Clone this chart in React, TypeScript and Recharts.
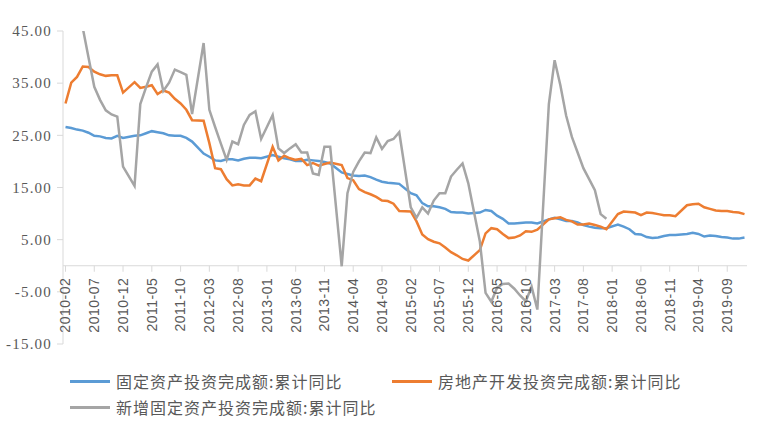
import { Line, LineChart, ReferenceLine, XAxis, YAxis } from "recharts";

// 月度类目（1月无单独数据，留空后连线）
const months = [
  "2010-02", "2010-03", "2010-04", "2010-05", "2010-06", "2010-07", "2010-08", "2010-09", "2010-10", "2010-11", "2010-12",
  "2011-01", "2011-02", "2011-03", "2011-04", "2011-05", "2011-06", "2011-07", "2011-08", "2011-09", "2011-10", "2011-11", "2011-12",
  "2012-01", "2012-02", "2012-03", "2012-04", "2012-05", "2012-06", "2012-07", "2012-08", "2012-09", "2012-10", "2012-11", "2012-12",
  "2013-01", "2013-02", "2013-03", "2013-04", "2013-05", "2013-06", "2013-07", "2013-08", "2013-09", "2013-10", "2013-11", "2013-12",
  "2014-01", "2014-02", "2014-03", "2014-04", "2014-05", "2014-06", "2014-07", "2014-08", "2014-09", "2014-10", "2014-11", "2014-12",
  "2015-01", "2015-02", "2015-03", "2015-04", "2015-05", "2015-06", "2015-07", "2015-08", "2015-09", "2015-10", "2015-11", "2015-12",
  "2016-01", "2016-02", "2016-03", "2016-04", "2016-05", "2016-06", "2016-07", "2016-08", "2016-09", "2016-10", "2016-11", "2016-12",
  "2017-01", "2017-02", "2017-03", "2017-04", "2017-05", "2017-06", "2017-07", "2017-08", "2017-09", "2017-10", "2017-11", "2017-12",
  "2018-01", "2018-02", "2018-03", "2018-04", "2018-05", "2018-06", "2018-07", "2018-08", "2018-09", "2018-10", "2018-11", "2018-12",
  "2019-01", "2019-02", "2019-03", "2019-04", "2019-05", "2019-06", "2019-07", "2019-08", "2019-09", "2019-10", "2019-11", "2019-12",
];

// 固定资产投资完成额:累计同比
const fixedAsset = [
  26.6, 26.4, 26.1, 25.9, 25.5, 24.9, 24.8, 24.5, 24.4, 24.9, 24.5,
  null, 24.9, 25.0, 25.4, 25.8, 25.6, 25.4, 25.0, 24.9, 24.9, 24.5, 23.8,
  null, 21.5, 20.9, 20.2, 20.1, 20.4, 20.4, 20.2, 20.5, 20.7, 20.7, 20.6,
  null, 21.2, 20.9, 20.6, 20.4, 20.1, 20.1, 20.3, 20.2, 20.1, 19.9, 19.6,
  null, 17.9, 17.6, 17.3, 17.2, 17.3, 17.0, 16.5, 16.1, 15.9, 15.8, 15.7,
  null, 13.9, 13.5, 12.0, 11.4, 11.4, 11.2, 10.9, 10.3, 10.2, 10.2, 10.0,
  null, 10.2, 10.7, 10.5, 9.6, 9.0, 8.1, 8.1, 8.2, 8.3, 8.3, 8.1,
  null, 8.9, 9.2, 8.9, 8.6, 8.6, 8.3, 7.8, 7.5, 7.3, 7.2, 7.2,
  null, 7.9, 7.5, 7.0, 6.1, 6.0, 5.5, 5.3, 5.4, 5.7, 5.9, 5.9,
  null, 6.1, 6.3, 6.1, 5.6, 5.8, 5.7, 5.5, 5.4, 5.2, 5.2, 5.4,
];

// 房地产开发投资完成额:累计同比
const realEstate = [
  31.1, 35.1, 36.2, 38.2, 38.1, 37.2, 36.7, 36.4, 36.5, 36.5, 33.2,
  null, 35.2, 34.1, 34.3, 34.6, 32.9, 33.6, 33.2, 32.0, 31.1, 29.9, 27.9,
  null, 27.8, 23.5, 18.7, 18.5, 16.6, 15.4, 15.6, 15.4, 15.4, 16.7, 16.2,
  null, 22.8, 20.2, 21.1, 20.6, 20.3, 20.5, 19.3, 19.7, 19.2, 19.5, 19.8,
  null, 19.3, 16.8, 16.4, 14.7, 14.1, 13.7, 13.2, 12.5, 12.4, 11.9, 10.5,
  null, 10.4, 8.5, 6.0, 5.1, 4.6, 4.3, 3.5, 2.6, 2.0, 1.3, 1.0,
  null, 3.0, 6.2, 7.2, 7.0, 6.1, 5.3, 5.4, 5.8, 6.6, 6.5, 6.9,
  null, 8.9, 9.1, 9.3, 8.8, 8.5, 7.9, 7.9, 8.1, 7.8, 7.5, 7.0,
  null, 9.9, 10.4, 10.3, 10.2, 9.7, 10.2, 10.1, 9.9, 9.7, 9.7, 9.5,
  null, 11.6, 11.8, 11.9, 11.2, 10.9, 10.6, 10.5, 10.5, 10.3, 10.2, 9.9,
];

// 新增固定资产投资完成额:累计同比
const newFixedAsset = [
  null, null, null, 45.6, 39.9, 34.3, 31.8, 29.8, 29.0, 28.6, 19.0,
  null, 15.3, 31.0, 34.2, 37.2, 38.6, 33.5, 35.1, 37.6, 37.1, 36.6, 29.1,
  null, 42.7, 29.9, 26.6, 23.4, 20.3, 23.8, 23.3, 27.0, 28.9, 29.6, 24.3,
  null, 28.9, 22.5, 21.6, 22.5, 23.3, 21.7, 21.7, 17.7, 17.4, 22.8, 22.8,
  null, -0.1, 13.9, 18.0, 20.0, 21.7, 21.6, 24.6, 22.4, 23.9, 24.3, 25.6,
  null, 11.2, 9.2, 11.2, 10.0, 12.5, 13.9, 13.9, 17.1, 18.4, 19.6, 15.8,
  null, 4.7, -5.2, -6.9, -4.2, -3.5, -3.4, -4.4, -5.7, -6.8, -4.0, -8.4,
  null, 31.0, 39.4, 34.6, 28.8, 24.7, 21.7, 18.7, 16.6, 14.5, 9.9, 9.0,
  null, null, null, null, null, null, null, null, null, null, null, null,
  null, null, null, null, null, null, null, null, null, null, null, null,
];

const yTicks = [-15, -5, 5, 15, 25, 35, 45];

const series = [
  { key: "fixedAsset", name: "固定资产投资完成额:累计同比", color: "#5B9BD5" },
  { key: "realEstate", name: "房地产开发投资完成额:累计同比", color: "#ED7D31" },
  { key: "newFixedAsset", name: "新增固定资产投资完成额:累计同比", color: "#A5A5A5" },
];

const data = months.map((month, i) => ({
  month,
  fixedAsset: fixedAsset[i],
  realEstate: realEstate[i],
  newFixedAsset: newFixedAsset[i],
}));

const WIDTH = 775;
const HEIGHT = 441;
const X_AXIS_H = 30;
const MARGIN = { top: 31, right: 28, bottom: 97 - X_AXIS_H, left: 0 };
const Y_MIN = -15;
const Y_MAX = 45;
const PLOT_H = HEIGHT - MARGIN.top - MARGIN.bottom - X_AXIS_H;
const ZERO_Y = MARGIN.top + (PLOT_H * Y_MAX) / (Y_MAX - Y_MIN);
const AXIS_COLOR = "#d9d9d9";
const TEXT_COLOR = "#595959";

const MonthTick = (props: any) => {
  const { x, payload } = props;
  const ty = ZERO_Y + 12;
  return (
    <g>
      <line x1={x} x2={x} y1={ZERO_Y} y2={ZERO_Y + 6} stroke={AXIS_COLOR} />
      <text
        x={x}
        y={ty}
        dy="0.35em"
        textAnchor="end"
        transform={`rotate(-90 ${x} ${ty})`}
        fill={TEXT_COLOR}
        fontSize={14}
        letterSpacing={0.5}
        fontFamily="Liberation Sans, Arial, sans-serif"
      >
        {payload.value}
      </text>
    </g>
  );
};

const legendRows = [
  [
    { ...series[0], left: 70 },
    { ...series[1], left: 392 },
  ],
  [{ ...series[2], left: 70 }],
];
const LEGEND_TOP = [381, 407];

const App = () => {
  return (
    <div style={{ position: "absolute", left: 0, top: 0, width: WIDTH, height: HEIGHT, background: "#fff" }}>
      <LineChart width={WIDTH} height={HEIGHT} data={data} margin={MARGIN}>
        <XAxis
          dataKey="month"
          interval={4}
          height={X_AXIS_H}
          axisLine={false}
          tickLine={false}
          padding={{ left: 2.5, right: 2.5 }}
          tick={(p: any) => <MonthTick {...p} />}
        />
        <YAxis
          width={63}
          domain={[Y_MIN, Y_MAX]}
          ticks={yTicks}
          allowDataOverflow
          interval={0}
          tickFormatter={(v: number) => v.toFixed(2)}
          axisLine={{ stroke: AXIS_COLOR }}
          tickLine={{ stroke: AXIS_COLOR }}
          tickSize={6}
          tickMargin={5}
          tick={{ fill: TEXT_COLOR, fontSize: 15, fontFamily: "Liberation Serif, serif", letterSpacing: 1.2 }}
        />
        <ReferenceLine y={0} stroke={AXIS_COLOR} />
        {series.map((s) => (
          <Line
            key={s.key}
            dataKey={s.key}
            name={s.name}
            stroke={s.color}
            strokeWidth={2.5}
            dot={false}
            connectNulls
            isAnimationActive={false}
          />
        ))}
      </LineChart>
      {legendRows.map((row, r) =>
        row.map((item) => (
          <div
            key={item.key}
            style={{
              position: "absolute",
              left: item.left,
              top: LEGEND_TOP[r] - 12,
              height: 24,
              display: "flex",
              alignItems: "center",
              fontFamily: "'Noto Sans CJK SC', sans-serif",
              fontSize: 16,
              letterSpacing: 1,
              color: TEXT_COLOR,
              whiteSpace: "nowrap",
            }}
          >
            <span style={{ display: "inline-block", width: 40, height: 3, background: item.color, marginRight: 6 }} />
            {item.name}
          </div>
        ))
      )}
    </div>
  );
};

export default App;
